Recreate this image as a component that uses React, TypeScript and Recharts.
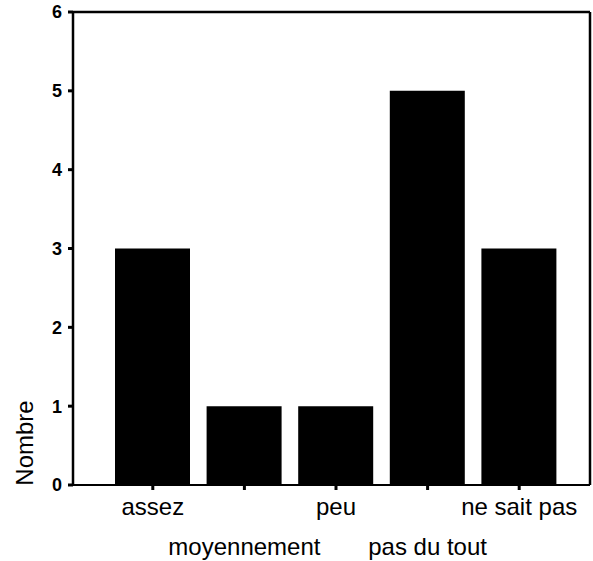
import React from 'react';
import { BarChart, Bar, XAxis, YAxis } from 'recharts';

// Opinion categories and counts
const CATEGORIES = ['assez', 'moyennement', 'peu', 'pas du tout', 'ne sait pas'];
const COUNTS = [3, 1, 1, 5, 3];
const Y_TICKS = [0, 1, 2, 3, 4, 5, 6];

const chartData = CATEGORIES.map((name, i) => ({ name, value: COUNTS[i] }));

const FONT = '"Liberation Sans", Arial, Helvetica, sans-serif';

// staggered category labels: even index on first row, odd on second
const StaggeredTick = (props: any) => {
  const { x, y, payload, index } = props;
  const dy = index % 2 === 0 ? 23 : 63;
  return (
    <text
      x={x}
      y={y + dy}
      textAnchor="middle"
      fill="#000"
      fontSize={24}
      fontFamily={FONT}
    >
      {payload.value}
    </text>
  );
};

const YLabel = (props: any) => {
  const { viewBox } = props;
  const lx = viewBox.x + 33;
  const ly = viewBox.y + viewBox.height - 42;
  return (
    <text
      x={lx}
      y={ly}
      transform={`rotate(-90, ${lx}, ${ly})`}
      textAnchor="middle"
      fill="#000"
      fontSize={24}
      fontFamily={FONT}
    >
      Nombre
    </text>
  );
};

export default function App() {
  return (
    <div style={{ position: 'absolute', left: 0, top: 0, background: '#fff' }}>
      <BarChart
        width={593}
        height={561}
        data={chartData}
        margin={{ top: 11, right: 2, left: 0, bottom: 0 }}
      >
        <XAxis
          dataKey="name"
          height={76}
          padding={{ left: 34, right: 25 }}
          axisLine={{ stroke: '#000', strokeWidth: 2 }}
          tickLine={{ stroke: '#000', strokeWidth: 3 }}
          tickSize={5}
          tickMargin={2}
          interval={0}
          tick={<StaggeredTick />}
        />
        <XAxis
          xAxisId="top"
          dataKey="name"
          orientation="top"
          height={1}
          padding={{ left: 34, right: 25 }}
          axisLine={{ stroke: '#000', strokeWidth: 2.5 }}
          tick={false}
          tickLine={false}
        />
        <YAxis
          domain={[0, 6]}
          ticks={Y_TICKS}
          width={73}
          axisLine={{ stroke: '#000', strokeWidth: 2.5 }}
          tickLine={{ stroke: '#000', strokeWidth: 3 }}
          tickSize={5}
          tickMargin={6}
          tick={{ fill: '#000', fontSize: 18, fontWeight: 'bold', fontFamily: FONT }}
          label={<YLabel />}
        />
        <YAxis
          yAxisId="right"
          orientation="right"
          width={1}
          domain={[0, 6]}
          axisLine={{ stroke: '#000', strokeWidth: 2.5 }}
          tick={false}
          tickLine={false}
        />
        <Bar dataKey="value" fill="#000" barSize={75} isAnimationActive={false} />
        {/* invisible series so the frame axes get rendered */}
        <Bar
          dataKey="value"
          xAxisId="top"
          yAxisId="right"
          fill="#000"
          fillOpacity={0}
          barSize={75}
          isAnimationActive={false}
        />
      </BarChart>
    </div>
  );
}
